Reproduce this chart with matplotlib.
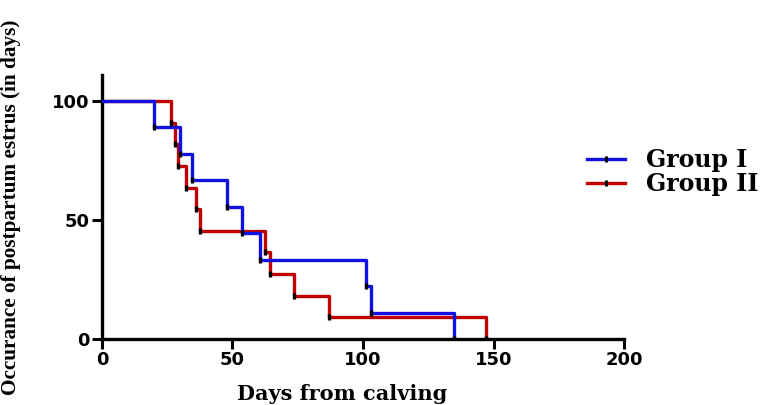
import matplotlib.pyplot as plt
from matplotlib.lines import Line2D

# Kaplan-Meier style curves
g1_days = [0, 20, 30, 34.5, 48, 53.5, 60.5, 101, 103, 135]
g1_pct = [100, 88.9, 77.8, 66.7, 55.6, 44.4, 33.3, 22.2, 11.1, 0]
g2_days = [0, 26.5, 28, 29, 32, 36, 37.5, 62.5, 64.5, 73.5, 87, 147]
g2_pct = [100, 90.9, 81.8, 72.7, 63.6, 54.5, 45.5, 36.4, 27.3, 18.2, 9.1, 0]
labels = ["Group I", "Group II"]
blue, red = "#1010e0", "#c00000"

fig = plt.figure(figsize=(7.65, 4.05), dpi=100)
ax = fig.add_axes([0.1333, 0.163, 0.6824, 0.652])

ax.step(g1_days, g1_pct, where="post", color=blue, lw=2.4, zorder=3)
ax.step(g2_days, g2_pct, where="post", color=red, lw=2.4, zorder=2)
ax.plot(g1_days[1:], g1_pct[1:], ls="none", marker="|", ms=4.5, mew=2.4, color="black", zorder=4)
ax.plot(g2_days[1:], g2_pct[1:], ls="none", marker="|", ms=4.5, mew=2.4, color="black", zorder=4)

ax.set_xlim(0, 200)
ax.set_ylim(0, 111)
ax.set_xticks([0, 50, 100, 150, 200])
ax.set_yticks([0, 50, 100])
for s in ["top", "right"]:
    ax.spines[s].set_visible(False)
for s in ["left", "bottom"]:
    ax.spines[s].set_linewidth(2.4)
ax.tick_params(width=2.2, length=7, labelsize=13, pad=2)
for t in ax.get_xticklabels() + ax.get_yticklabels():
    t.set_fontfamily("DejaVu Sans")
    t.set_fontweight("bold")

ax.set_xlabel("Days from calving", family="DejaVu Serif", weight="bold", fontsize=15)
ax.xaxis.set_label_coords(0.46, -0.17)
ax.set_ylabel("Occurance of postpartum estrus (in days)", family="Liberation Serif",
              weight="bold", fontsize=15.3)
ax.yaxis.set_label_coords(-0.155, 0.5)

handles = [Line2D([], [], color=blue, lw=2.4, marker="|", ms=5, mew=2.2, mec="black"),
           Line2D([], [], color=red, lw=2.4, marker="|", ms=5, mew=2.2, mec="black")]
fig.legend(handles, labels, loc="center left", bbox_to_anchor=(0.752, 0.575), frameon=False,
           prop={"family": "DejaVu Serif", "weight": "bold", "size": 17},
           handlelength=1.6, handletextpad=0.9, labelspacing=0.0, borderpad=0)

fig.savefig("out.png", dpi=100)
